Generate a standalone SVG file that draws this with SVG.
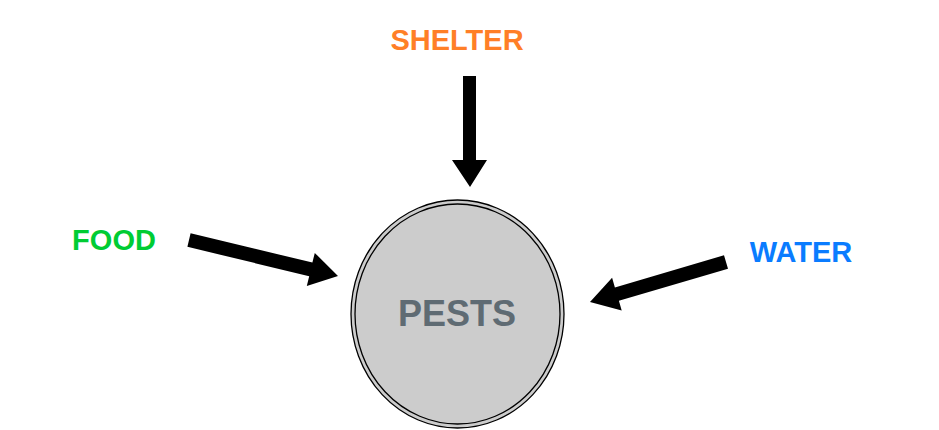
<svg xmlns="http://www.w3.org/2000/svg" width="939" height="430" viewBox="0 0 939 430">
<style>
text{font-family:"Liberation Sans",Arial,sans-serif;font-weight:bold}
.arr{fill:#000}
</style>
<rect width="939" height="430" fill="#fff"/>
<g id="connectors">
<polygon class="arr" points="190.6,233.2 312.4,262.6 314.8,252.9 338,276 306.8,285.9 309.2,276.2 187.4,246.8"/>
<polygon class="arr" points="463,76 476,76 476,160 487,160 470,187 452,160 463,160"/>
<polygon class="arr" points="724,255.3 614.9,287.4 612.1,277.8 590,302 621.7,310.4 618.9,300.8 728,268.7"/>
</g>
<g id="pests">
<ellipse cx="457.5" cy="314" rx="106.5" ry="114" fill="#cccccc" stroke="#000" stroke-width="1.3"/>
<ellipse cx="457.5" cy="314" rx="102.5" ry="110" fill="none" stroke="#000" stroke-width="1.3"/>
<text x="457" y="326" font-size="36" fill="#5f6b73" text-anchor="middle">PESTS</text>
</g>
<g id="shelter"><text x="457" y="50" font-size="29" fill="#ff7f27" text-anchor="middle">SHELTER</text></g>
<g id="food"><text x="114" y="250" font-size="29" fill="#00cc33" text-anchor="middle">FOOD</text></g>
<g id="water"><text x="801" y="262" font-size="29" fill="#0a7cff" text-anchor="middle">WATER</text></g>
</svg>
